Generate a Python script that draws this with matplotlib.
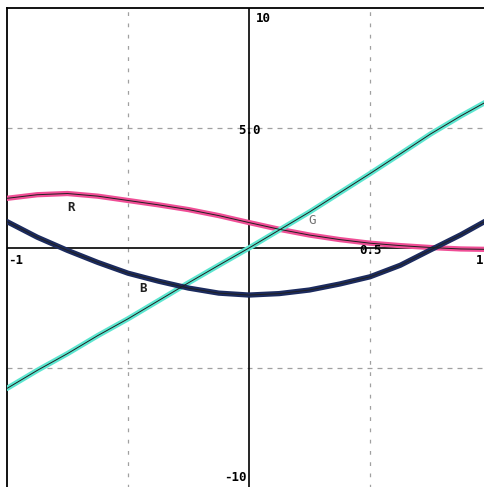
import matplotlib
matplotlib.use("Agg")
import matplotlib.pyplot as plt

# data
x = [-1.0, -0.875, -0.75, -0.625, -0.5, -0.375, -0.25, -0.125, 0.0,
     0.125, 0.25, 0.375, 0.5, 0.625, 0.75, 0.875, 1.0]
r_vals = [2.07, 2.22, 2.27, 2.16, 1.98, 1.8, 1.6, 1.35, 1.06,
          0.78, 0.54, 0.35, 0.2, 0.1, 0.02, -0.04, -0.06]
g_vals = [-5.85, -5.1, -4.4, -3.65, -2.95, -2.2, -1.45, -0.72, 0.0,
          0.75, 1.5, 2.3, 3.1, 3.92, 4.75, 5.5, 6.2]
b_vals = [1.1, 0.45, -0.1, -0.6, -1.05, -1.38, -1.67, -1.88, -1.96,
          -1.9, -1.75, -1.5, -1.2, -0.72, -0.08, 0.55, 1.25]

labels = ["R", "G", "B"]
label_pos = [(-0.735, 1.7), (0.26, 1.13), (-0.44, -1.67)]

xticks_lbl = ["-1", "0.5", "1"]
yticks_lbl = ["10", "5.0", "-10"]

W, H = 484, 487
fig = plt.figure(figsize=(W / 100, H / 100), dpi=100)
ax = fig.add_axes([7 / W, -1 / H, 484 / W, 480 / H])
ax.set_xlim(-1, 1)
ax.set_ylim(-10, 10)
ax.set_xticks([])
ax.set_yticks([])
for s in ax.spines.values():
    s.set_linewidth(1.3)
    s.set_color("black")

# grid
for gx in (-0.5, 0.5):
    ax.axvline(gx, color="#a0a0a0", lw=0.9, ls=(0, (3, 6)), zorder=1)
for gy in (-5, 5):
    ax.axhline(gy, color="#a0a0a0", lw=0.9, ls=(0, (4, 4)), zorder=1)

# axes lines
ax.axhline(0, color="black", lw=1.2, zorder=2)
ax.axvline(0, color="black", lw=1.2, zorder=2)

colors = {"R": "#f04e96", "G": "#5ce6d0", "B": "#1c2b5e"}
series = {"R": r_vals, "G": g_vals, "B": b_vals}
for name in ["R", "G", "B"]:
    ax.plot(x, series[name], color=colors[name], lw=3.8, solid_capstyle="round",
            zorder=3)
    ax.plot(x, series[name], color="#202020", lw=0.7, zorder=4)

font = dict(family="DejaVu Sans Mono", fontweight="bold", fontsize=9)
label_colors = {"R": "#202020", "G": "#707070", "B": "#202020"}
label_weight = {"R": "bold", "G": "normal", "B": "bold"}
for name, (lx, ly) in zip(labels, label_pos):
    ax.text(lx, ly, name, ha="center", va="center", color=label_colors[name],
            fontsize=9, family="DejaVu Sans Mono",
            fontweight=label_weight[name], zorder=5)

# tick labels
ax.text(0.03, 9.85, yticks_lbl[0], ha="left", va="top", zorder=5, **font)
ax.text(0.0, 4.9, yticks_lbl[1], ha="center", va="center", zorder=5, **font)
ax.text(-0.01, -9.85, yticks_lbl[2], ha="right", va="bottom", zorder=5, **font)
ax.text(-0.995, -0.25, xticks_lbl[0], ha="left", va="top", zorder=5, **font)
ax.text(0.5, -0.1, xticks_lbl[1], ha="center", va="center", zorder=5, **font)
ax.text(0.968, -0.25, xticks_lbl[2], ha="right", va="top", zorder=5, **font)

fig.savefig("out.png", dpi=100)
